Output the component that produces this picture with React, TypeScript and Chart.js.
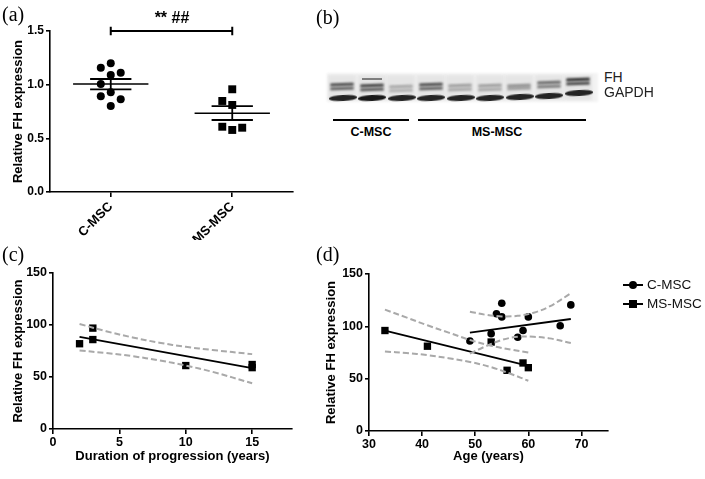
import React, { useEffect, useRef } from 'react';
import { Chart, registerables } from 'chart.js';

Chart.register(...registerables);

const SANS = "'Liberation Sans', Arial, Helvetica, sans-serif";
const SERIF = "'Liberation Serif', 'Times New Roman', serif";

// ---------- Panel (a) ----------
const groupLabels = ['C-MSC', 'MS-MSC'];
const cmscExpression = [1.199, 1.158, 1.112, 1.09, 1.006, 0.929, 0.893, 0.864, 0.801];
const cmscColumn = [0, -1, 1, 0, -1, 0, -1, 1, 0];
const msmscExpression = [0.957, 0.848, 0.811, 0.608, 0.578, 0.599];
const msmscColumn = [0, -1, 0, -1, 0, 1];
const groupMean = [1.006, 0.733];
const groupSemHigh = [1.053, 0.801];
const groupSemLow = [0.957, 0.671];
const expressionTicks = [0, 0.5, 1.0, 1.5];
const significanceLevel = 1.5;

// ---------- Panel (b) ----------
const blotLaneGroups = ['C-MSC', 'C-MSC', 'C-MSC', 'MS-MSC', 'MS-MSC', 'MS-MSC', 'MS-MSC', 'MS-MSC', 'MS-MSC'];
const fhBandIntensity = [0.75, 0.8, 0.3, 0.75, 0.35, 0.35, 0.4, 0.6, 0.9];
const gapdhBandIntensity = [0.95, 1.0, 0.95, 0.95, 0.95, 0.95, 0.95, 0.95, 0.95];

// ---------- Panel (c) ----------
const durationYears = [2, 3, 3, 10, 15, 15];
const durationExpression = [82, 97, 86, 61, 62, 59];
const durationFitYears = [2, 15];
const durationFitExpression = [88.5, 58.5];
const durationBandYears = [2, 4, 6, 8, 10, 12, 15];
const durationBandUpper = [101, 94, 88, 83, 79, 76, 72];
const durationBandLower = [75.5, 73, 70, 66, 61, 55, 44];
const durationTicks = [0, 5, 10, 15];
const relativeTicks = [0, 50, 100, 150];

// ---------- Panel (d) ----------
const cAge = [49, 53, 54, 55, 55, 58, 59, 60, 66, 68];
const cExpression = [86, 93, 112, 122, 109, 89.5, 96, 109, 100.5, 120.5];
const cFitAge = [49, 68];
const cFitExpression = [94, 107];
const cBandAge = [49, 52, 55, 58, 61, 64, 68];
const cBandUpper = [114, 111, 109.5, 110, 113, 119, 131.5];
const cBandLower = [74, 81, 87, 90, 90, 88.5, 84];
const msAge = [33, 41, 53, 56, 59, 60];
const msExpression = [96, 81, 85, 58, 65, 60.5];
const msFitAge = [33, 60];
const msFitExpression = [96, 62.3];
const msBandAge = [33, 37, 41, 45, 49, 53, 57, 60];
const msBandUpper = [116, 108.5, 101, 94, 87, 81.5, 77.5, 75];
const msBandLower = [76, 74.5, 72.5, 69.5, 66, 61, 54, 48];
const ageTicks = [30, 40, 50, 60, 70];
const legendLabels = ['C-MSC', 'MS-MSC'];

const xy = (xs: number[], ys: number[]) => xs.map((x, i) => ({ x, y: ys[i] }));

const axisLook = (tickLen: number) => ({
  border: { display: true, color: '#000', width: 1.6 },
  grid: { drawOnChartArea: false, drawTicks: true, tickLength: tickLen, color: '#000', lineWidth: 1.6 },
});

const tickFont = (size: number) => ({ family: SANS, size, weight: 'bold' as const });

const solidLine = (data: any[], width = 1.8) => ({
  data,
  showLine: true,
  borderColor: '#000',
  borderWidth: width,
  pointRadius: 0,
  fill: false,
});

const dashedBand = (data: any[]) => ({
  data,
  showLine: true,
  borderColor: '#a9a9a9',
  borderWidth: 2,
  borderDash: [6, 3],
  pointRadius: 0,
  fill: false,
  tension: 0.35,
});

const marks = (data: any[], style: string, radius: number) => ({
  data,
  showLine: false,
  pointStyle: style,
  pointRadius: radius,
  pointBackgroundColor: '#000',
  pointBorderColor: '#000',
  pointBorderWidth: 0,
});

function useChart(ref: React.RefObject<HTMLCanvasElement>, makeConfig: () => any) {
  useEffect(() => {
    if (!ref.current) return;
    const chart = new Chart(ref.current, makeConfig());
    return () => chart.destroy();
  }, []);
}

const baseOptions = {
  responsive: false,
  animation: false,
  devicePixelRatio: 1,
  plugins: { legend: { display: false }, tooltip: { enabled: false } },
};

function PanelA() {
  const ref = useRef<HTMLCanvasElement>(null);
  useChart(ref, () => {
    const jitter = 0.082;
    const centers = [0.5, 1.5];
    const meanHalf = 0.31;
    const semHalf = 0.17;
    const ds: any[] = [];
    ds.push(marks(cmscExpression.map((v, i) => ({ x: centers[0] + cmscColumn[i] * jitter, y: v })), 'circle', 4));
    ds.push(marks(msmscExpression.map((v, i) => ({ x: centers[1] + msmscColumn[i] * jitter, y: v })), 'rect', 5.6));
    centers.forEach((c, g) => {
      ds.push(solidLine([{ x: c - meanHalf, y: groupMean[g] }, { x: c + meanHalf, y: groupMean[g] }], 1.6));
      ds.push(solidLine([{ x: c - semHalf, y: groupSemHigh[g] }, { x: c + semHalf, y: groupSemHigh[g] }], 1.8));
      ds.push(solidLine([{ x: c - semHalf, y: groupSemLow[g] }, { x: c + semHalf, y: groupSemLow[g] }], 1.8));
      ds.push(solidLine([{ x: c, y: groupSemLow[g] }, { x: c, y: groupSemHigh[g] }], 1.8));
    });
    const bracket = solidLine([
      { x: centers[0], y: significanceLevel - 0.04 },
      { x: centers[0], y: significanceLevel + 0.04 },
      { x: centers[0], y: significanceLevel },
      { x: centers[1], y: significanceLevel },
      { x: centers[1], y: significanceLevel + 0.04 },
      { x: centers[1], y: significanceLevel - 0.04 },
    ], 2);
    (bracket as any).clip = false;
    ds.push(bracket);
    return {
      type: 'scatter',
      data: { datasets: ds },
      options: {
        ...baseOptions,
        layout: { padding: { left: 0, top: 31, right: 7, bottom: 0 } },
        scales: {
          x: {
            type: 'linear',
            min: 0,
            max: 2,
            ...axisLook(5),
            afterBuildTicks: (s: any) => { s.ticks = centers.map((v) => ({ value: v })); },
            afterFit: (s: any) => { s.height = 48; },
            ticks: {
              minRotation: 45,
              maxRotation: 45,
              padding: 2,
              color: '#000',
              font: tickFont(13),
              callback: (v: any) => groupLabels[Math.round(Number(v) - 0.5)],
            },
          },
          y: {
            type: 'linear',
            min: 0,
            max: 1.5,
            ...axisLook(4),
            afterBuildTicks: (s: any) => { s.ticks = expressionTicks.map((v) => ({ value: v })); },
            afterFit: (s: any) => { s.width = 50; },
            ticks: { padding: 2, color: '#000', font: tickFont(12), callback: (v: any) => Number(v).toFixed(1) },
            title: {
              display: true,
              text: 'Relative FH expression',
              color: '#000',
              font: tickFont(13),
              padding: { top: 11, bottom: 0 },
            },
          },
        },
      },
    };
  });
  return <canvas ref={ref} width={300} height={240} style={{ position: 'absolute', left: 0, top: 0, width: 300, height: 240 }} />;
}

function PanelC() {
  const ref = useRef<HTMLCanvasElement>(null);
  useChart(ref, () => ({
    type: 'scatter',
    data: {
      datasets: [
        dashedBand(xy(durationBandYears, durationBandUpper)),
        dashedBand(xy(durationBandYears, durationBandLower)),
        solidLine(xy(durationFitYears, durationFitExpression), 1.8),
        marks(xy(durationYears, durationExpression), 'rect', 5.2),
      ],
    },
    options: {
      ...baseOptions,
      layout: { padding: { left: 0, top: 33, right: 38, bottom: 0 } },
      scales: {
        x: {
          type: 'linear',
          min: 0,
          max: 18,
          ...axisLook(5),
          afterBuildTicks: (s: any) => { s.ticks = durationTicks.map((v) => ({ value: v })); },
          afterFit: (s: any) => { s.height = 50; },
          ticks: { padding: 1, color: '#000', font: tickFont(12.5), maxRotation: 0 },
          title: {
            display: true,
            text: 'Duration of progression (years)',
            color: '#000',
            font: tickFont(13),
            padding: { top: 0, bottom: 15 },
          },
        },
        y: {
          type: 'linear',
          min: 0,
          max: 150,
          ...axisLook(4),
          afterBuildTicks: (s: any) => { s.ticks = relativeTicks.map((v) => ({ value: v })); },
          afterFit: (s: any) => { s.width = 53; },
          ticks: { padding: 2, color: '#000', font: tickFont(12.5) },
          title: {
            display: true,
            text: 'Relative FH expression',
            color: '#000',
            font: tickFont(13),
            padding: { top: 11, bottom: 0 },
          },
        },
      },
    },
  }));
  return <canvas ref={ref} width={330} height={239} style={{ position: 'absolute', left: 0, top: 240, width: 330, height: 239 }} />;
}

function PanelD() {
  const ref = useRef<HTMLCanvasElement>(null);
  useChart(ref, () => ({
    type: 'scatter',
    data: {
      datasets: [
        dashedBand(xy(msBandAge, msBandUpper)),
        dashedBand(xy(msBandAge, msBandLower)),
        dashedBand(xy(cBandAge, cBandUpper)),
        dashedBand(xy(cBandAge, cBandLower)),
        solidLine(xy(msFitAge, msFitExpression), 1.8),
        solidLine(xy(cFitAge, cFitExpression), 1.8),
        marks(xy(cAge, cExpression), 'circle', 3.8),
        marks(xy(msAge, msExpression), 'rect', 5.2),
      ],
    },
    options: {
      ...baseOptions,
      layout: { padding: { left: 0, top: 34, right: 97, bottom: 0 } },
      scales: {
        x: {
          type: 'linear',
          min: 30,
          max: 75,
          ...axisLook(5),
          afterBuildTicks: (s: any) => { s.ticks = ageTicks.map((v) => ({ value: v })); },
          afterFit: (s: any) => { s.height = 48; },
          ticks: { padding: 1, color: '#000', font: tickFont(12.5), maxRotation: 0 },
          title: {
            display: true,
            text: 'Age (years)',
            color: '#000',
            font: tickFont(13),
            padding: { top: 0, bottom: 15 },
          },
        },
        y: {
          type: 'linear',
          min: 0,
          max: 150,
          ...axisLook(4),
          afterBuildTicks: (s: any) => { s.ticks = relativeTicks.map((v) => ({ value: v })); },
          afterFit: (s: any) => { s.width = 59; },
          ticks: { padding: 2, color: '#000', font: tickFont(12.5) },
          title: {
            display: true,
            text: 'Relative FH expression',
            color: '#000',
            font: tickFont(13),
            padding: { top: 14, bottom: 0 },
          },
        },
      },
    },
  }));
  return <canvas ref={ref} width={395} height={239} style={{ position: 'absolute', left: 310, top: 240, width: 395, height: 239 }} />;
}

function Blot() {
  const laneStart = 342;
  const laneStep = 29.5;
  const gapdhTop = [94.5, 94.5, 94.5, 94.5, 94.5, 94.5, 94, 92.5, 89.5];
  const fhTop = [83, 84, 85, 83, 84, 84, 83.5, 81, 78];
  const abs = (s: any) => ({ position: 'absolute' as const, ...s });
  return (
    <>
      <div style={abs({ left: 327, top: 73, width: 271, height: 29, background: 'rgba(235,235,235,0.6)', filter: 'blur(1px)' })} />
      {blotLaneGroups.map((g, i) => {
        const cx = laneStart + i * laneStep;
        const a = fhBandIntensity[i];
        const shade = (k: number) => `rgba(25,25,25,${Math.min(1, k)})`;
        return (
          <React.Fragment key={i}>
            <div style={abs({ left: cx - 14, top: 75, width: 28, height: 25, background: 'rgba(200,200,200,0.3)', filter: 'blur(1.5px)' })} />
            {i === 1 && (
              <div style={abs({ left: cx - 10, top: 77.5, width: 20, height: 2, background: shade(0.5), filter: 'blur(0.7px)' })} />
            )}
            <div style={abs({ left: cx - 12, top: fhTop[i], width: 24, height: 3, borderRadius: 2, background: shade(a), filter: 'blur(0.8px)', transform: 'rotate(-2deg)' })} />
            <div style={abs({ left: cx - 12, top: fhTop[i] + 3.6, width: 24, height: 3, borderRadius: 2, background: shade(a * 0.85), filter: 'blur(0.8px)', transform: 'rotate(-2deg)' })} />
            <div style={abs({ left: cx - 13.5, top: gapdhTop[i], width: 28, height: 5.5, borderRadius: '50%', background: shade(gapdhBandIntensity[i]), filter: 'blur(0.6px)', transform: 'rotate(-3deg)' })} />
          </React.Fragment>
        );
      })}
      <div style={abs({ left: 333, top: 119, width: 76, height: 1.6, background: '#000' })} />
      <div style={abs({ left: 418, top: 119, width: 168, height: 1.6, background: '#000' })} />
      <div style={abs({ left: 331, top: 125, width: 80, textAlign: 'center', font: `bold 12.5px ${SANS}` })}>C-MSC</div>
      <div style={abs({ left: 447, top: 125, width: 100, textAlign: 'center', font: `bold 12.5px ${SANS}` })}>MS-MSC</div>
      <div style={abs({ left: 604, top: 69, font: `14px ${SANS}`, color: '#222' })}>FH</div>
      <div style={abs({ left: 604, top: 84, font: `14px ${SANS}`, color: '#222' })}>GAPDH</div>
    </>
  );
}

function Legend() {
  const abs = (s: any) => ({ position: 'absolute' as const, ...s });
  return (
    <>
      {legendLabels.map((label, i) => {
        const y = 285 + i * 19;
        return (
          <React.Fragment key={label}>
            <div style={abs({ left: 623, top: y - 1, width: 20, height: 2, background: '#000' })} />
            <div
              style={abs({
                left: 629,
                top: y - 4,
                width: 8,
                height: 8,
                background: '#000',
                borderRadius: i === 0 ? '50%' : 0,
              })}
            />
            <div style={abs({ left: 647, top: y - 8, font: `13.5px ${SANS}`, color: '#111' })}>{label}</div>
          </React.Fragment>
        );
      })}
    </>
  );
}

export default function App() {
  const label = (text: string, left: number, top: number) => (
    <div style={{ position: 'absolute', left, top, font: `20px ${SERIF}`, lineHeight: '20px', color: '#000' }}>{text}</div>
  );
  return (
    <div style={{ position: 'absolute', left: 0, top: 0, width: 705, height: 479, background: '#fff', overflow: 'hidden' }}>
      <PanelA />
      <PanelC />
      <PanelD />
      <Blot />
      <Legend />
      <div style={{ position: 'absolute', left: 132, top: 9, width: 80, textAlign: 'center', font: `bold 16px ${SANS}` }}>** ##</div>
      {label('(a)', 2, 4)}
      {label('(b)', 316, 7)}
      {label('(c)', 2, 244)}
      {label('(d)', 316, 244)}
    </div>
  );
}
